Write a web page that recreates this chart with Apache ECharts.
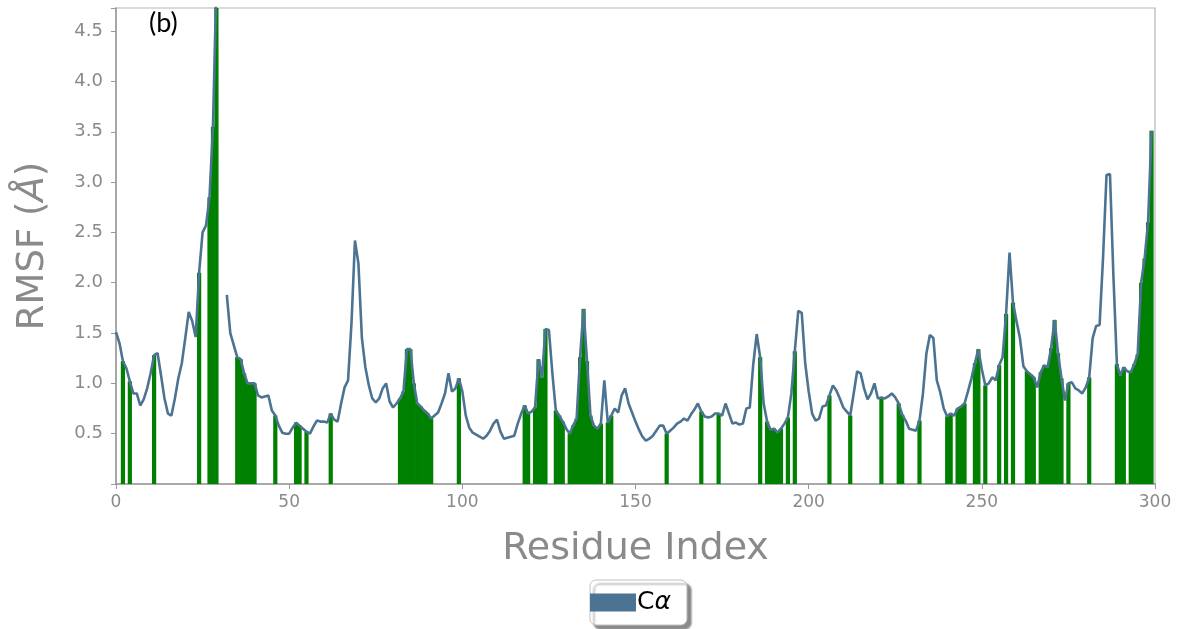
<!DOCTYPE html>
<html>
<head>
<meta charset="utf-8">
<script src="https://cdn.jsdelivr.net/npm/echarts@6/dist/echarts.min.js"></script>
<style>
html,body{margin:0;padding:0;background:#fff;}
#chart{width:1182px;height:629px;}
</style>
</head>
<body>
<div id="chart"></div>
<script>
// RMSF per residue (Å); null = gap in the trace
const rmsf = [
1.51,1.40,1.22,1.15,1.02,0.90,0.90,0.78,0.84,0.95,
1.10,1.28,1.30,1.08,0.85,0.70,0.68,0.85,1.05,1.20,
1.45,1.71,1.62,1.46,2.10,2.50,2.57,2.85,3.55,5.00,
null,null,1.88,1.50,1.38,1.26,1.24,1.10,1.00,1.00,
1.00,0.88,0.86,0.87,0.88,0.73,0.68,0.58,0.51,0.50,
0.50,0.56,0.61,0.58,0.55,0.52,0.50,0.57,0.63,0.62,
0.62,0.61,0.70,0.64,0.62,0.80,0.96,1.03,1.60,2.42,
2.19,1.45,1.16,0.98,0.85,0.81,0.85,0.95,1.00,0.82,
0.76,0.80,0.85,0.92,1.34,1.34,1.00,0.80,0.77,0.73,
0.70,0.65,0.68,0.71,0.80,0.90,1.10,0.92,0.95,1.05,
0.92,0.68,0.56,0.51,0.49,0.47,0.45,0.48,0.53,0.60,
0.64,0.52,0.45,0.46,0.47,0.48,0.60,0.70,0.78,0.70,
0.72,0.76,1.24,1.06,1.54,1.53,1.10,0.73,0.68,0.62,
0.55,0.50,0.58,0.65,1.26,1.74,1.22,0.68,0.58,0.55,
0.60,1.03,0.61,0.68,0.75,0.71,0.88,0.95,0.80,0.71,
0.62,0.54,0.47,0.43,0.45,0.48,0.53,0.58,0.58,0.50,
0.53,0.56,0.60,0.62,0.65,0.63,0.69,0.74,0.80,0.72,
0.67,0.66,0.67,0.70,0.70,0.68,0.80,0.70,0.60,0.61,
0.59,0.60,0.75,0.76,1.19,1.49,1.26,0.80,0.62,0.54,
0.55,0.51,0.55,0.60,0.66,0.90,1.32,1.72,1.70,1.20,
0.92,0.70,0.63,0.65,0.77,0.78,0.88,0.98,0.93,0.85,
0.76,0.72,0.68,0.90,1.12,1.10,0.95,0.84,0.90,1.00,
0.85,0.86,0.85,0.87,0.90,0.86,0.80,0.69,0.63,0.55,
0.54,0.53,0.63,0.90,1.30,1.48,1.45,1.03,0.91,0.75,
0.67,0.70,0.68,0.75,0.77,0.80,0.92,1.05,1.20,1.34,
1.14,0.98,1.00,1.06,1.03,1.18,1.26,1.69,2.30,1.80,
1.62,1.45,1.17,1.12,1.09,1.06,0.96,1.11,1.18,1.16,
1.35,1.63,1.30,1.05,0.83,1.00,1.01,0.95,0.93,0.90,
0.96,1.06,1.45,1.57,1.58,2.25,3.07,3.08,2.06,1.19,
1.08,1.16,1.12,1.11,1.19,1.29,2.00,2.24,2.60,3.51
];

// residues highlighted in green
const greenResidues = [
2,4,11,24,27,28,29,35,36,37,38,39,40,46,52,53,55,62,
82,83,84,85,86,87,88,89,90,91,99,118,119,121,122,123,124,
127,128,129,131,132,133,134,135,136,137,138,139,140,142,143,
159,169,174,186,188,189,190,191,192,194,196,206,212,221,226,227,232,
240,241,243,244,245,248,249,251,255,257,259,263,264,265,
267,268,269,270,271,272,273,275,281,289,290,291,
293,294,295,296,297,298,299
];

const xTicks = [0, 50, 100, 150, 200, 250, 300];
const yTicks = [0.5, 1.0, 1.5, 2.0, 2.5, 3.0, 3.5, 4.0, 4.5];

const residues = rmsf.map((_, i) => i);
const lineData = residues.map((r, i) => [r, rmsf[i] === null ? '-' : rmsf[i]]);
const greenData = greenResidues.map(r => [r, rmsf[r]]);

const gray = '#8a8a8a';
const chart = echarts.init(document.getElementById('chart'));
chart.setOption({
  animation: false,
  backgroundColor: '#fff',
  title: {
    text: '(b)', left: 144, top: 5,
    textStyle: { fontFamily: 'Lato', fontSize: 27, fontWeight: 'normal', color: '#000' }
  },
  grid: { left: 116, right: 27, top: 8, bottom: 145, show: true, borderColor: '#b5b5b5', borderWidth: 1.2 },
  legend: {
    data: ['Cα'], left: 590, top: 580,
    icon: 'rect', itemWidth: 46, itemHeight: 18,
    padding: [10, 16, 10, 0],
    backgroundColor: '#fff', borderColor: '#c0c0c0', borderWidth: 1, borderRadius: 6,
    shadowColor: 'rgba(0,0,0,0.45)', shadowBlur: 2, shadowOffsetX: 4, shadowOffsetY: 4,
    formatter: () => 'C{a|α}',
    textStyle: { fontSize: 25, color: '#000', fontFamily: 'DejaVu Sans', padding: [0, 0, 0, -4],
      rich: { a: { fontSize: 25, fontStyle: 'italic', fontFamily: 'DejaVu Sans', color: '#000' } } }
  },
  xAxis: {
    type: 'value', min: 0, max: 300, interval: 50,
    name: 'Residue Index', nameLocation: 'middle', nameGap: 46,
    nameTextStyle: { fontSize: 38, color: gray, fontFamily: 'DejaVu Sans' },
    axisLine: { show: true, lineStyle: { color: '#999', width: 1.5 } },
    axisTick: { show: true, length: 5, lineStyle: { color: '#999' } },
    axisLabel: { fontSize: 17, color: gray, fontFamily: 'DejaVu Sans', margin: 10,
      formatter: v => xTicks.includes(v) ? String(v) : '' },
    splitLine: { show: false }
  },
  yAxis: {
    type: 'value', min: 0, max: 4.73, interval: 0.5,
    name: 'RMSF ({a|Å})', nameLocation: 'middle', nameGap: 64, nameRotate: 90,
    nameTextStyle: { fontSize: 37, color: gray, fontFamily: 'DejaVu Sans',
      rich: { a: { fontSize: 37, fontStyle: 'italic', color: gray, fontFamily: 'DejaVu Sans' } } },
    axisLine: { show: true, lineStyle: { color: '#999', width: 1.5 } },
    axisTick: { show: true, length: 5, lineStyle: { color: '#999' } },
    axisLabel: { fontSize: 18, color: gray, fontFamily: 'DejaVu Sans', margin: 13,
      formatter: v => yTicks.some(t => Math.abs(t - v) < 1e-6) ? v.toFixed(1) : '' },
    splitLine: { show: false }
  },
  series: [
    {
      name: 'green', type: 'bar', data: greenData, barWidth: 4.2, z: 2,
      itemStyle: { color: '#008000' }, clip: true, legendHoverLink: false
    },
    {
      name: 'Cα', type: 'line', data: lineData, showSymbol: false, symbol: 'none',
      connectNulls: false, clip: true, z: 3,
      lineStyle: { color: '#4c7391', width: 2.6 },
      itemStyle: { color: '#4c7391' }
    }
  ]
});
</script>
</body>
</html>
